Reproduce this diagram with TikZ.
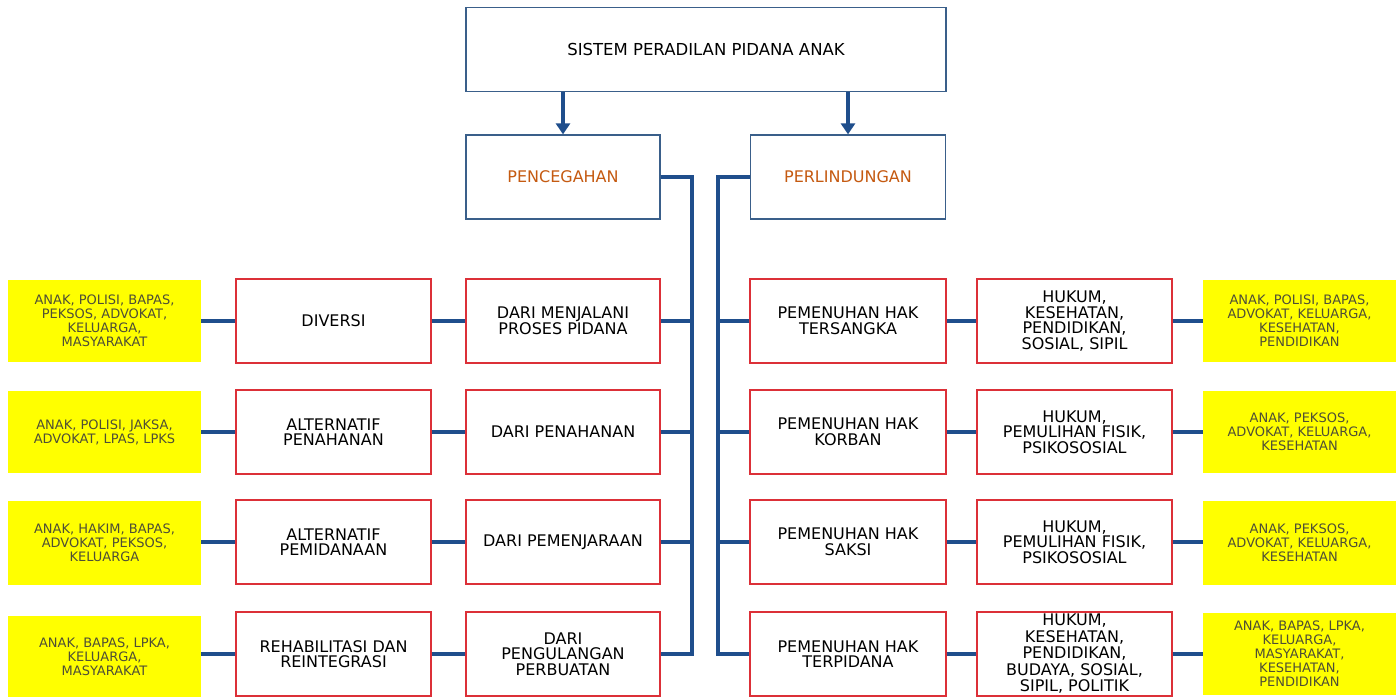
\documentclass[tikz,border=0pt]{standalone}
\usepackage{fontspec}
\setmainfont{DejaVu Sans}
\usetikzlibrary{arrows.meta}
\definecolor{navy}{HTML}{1F4E8C}
\definecolor{topblue}{HTML}{3A5F8A}
\definecolor{boxred}{HTML}{DC3038}
\definecolor{yel}{HTML}{FFFF00}
\definecolor{ytext}{HTML}{4E4E36}
\definecolor{orangebrown}{HTML}{C55A11}
\begin{document}
\begin{tikzpicture}[x=1pt,y=-1pt,
  topbox/.style={draw=topblue, line width=1.3pt, fill=white, inner sep=0pt, align=center, font=\fontsize{16}{16}\selectfont},
  redbox/.style={draw=boxred, line width=1.3pt, fill=white, minimum width=195pt, minimum height=84pt, inner sep=0pt, align=center, font=\fontsize{16}{15.5}\selectfont},
  ybox/.style={fill=yel, minimum width=193pt, minimum height=82pt, inner sep=0pt, align=center, text=ytext, font=\fontsize{13}{14}\selectfont},
  conn/.style={draw=navy, line width=4pt},
  arr/.style={draw=navy, line width=4pt, -{Triangle[width=14pt,length=11pt]}}
]
\useasboundingbox (0,0) rectangle (1400,696);
\fill[white] (0,0) rectangle (1400,696);

% top
\node[topbox, minimum width=480pt, minimum height=84pt, font=\fontsize{16.5}{16}\selectfont] (top) at (706,49.5) {SISTEM PERADILAN PIDANA ANAK};
\node[topbox, minimum width=194pt, minimum height=84pt, text=orangebrown] (pen) at (563,177) {PENCEGAHAN};
\node[topbox, minimum width=195pt, minimum height=84pt, text=orangebrown] (per) at (848,177) {PERLINDUNGAN};

% left column: yellow
\node[ybox] (ly1) at (104.5,321) {ANAK, POLISI,  BAPAS,\\PEKSOS,  ADVOKAT,\\KELUARGA,\\MASYARAKAT};
\node[ybox] (ly2) at (104.5,432) {ANAK, POLISI,  JAKSA,\\ADVOKAT,  LPAS, LPKS};
\node[ybox, minimum height=84pt] (ly3) at (104.5,543) {ANAK, HAKIM, BAPAS,\\ADVOKAT,  PEKSOS,\\KELUARGA};
\node[ybox] (ly4) at (104.5,657) {ANAK, BAPAS, LPKA,\\KELUARGA,\\MASYARAKAT};

% left column: middle
\node[redbox] (lm1) at (333.5,321) {DIVERSI};
\node[redbox] (lm2) at (333.5,432) {ALTERNATIF\\PENAHANAN};
\node[redbox] (lm3) at (333.5,542) {ALTERNATIF\\PEMIDANAAN};
\node[redbox] (lm4) at (333.5,654) {REHABILITASI DAN\\REINTEGRASI};

% left column: dari
\node[redbox, minimum width=194pt] (ld1) at (563,321) {DARI MENJALANI\\PROSES PIDANA};
\node[redbox, minimum width=194pt] (ld2) at (563,432) {DARI PENAHANAN};
\node[redbox, minimum width=194pt] (ld3) at (563,542) {DARI PEMENJARAAN};
\node[redbox, minimum width=194pt] (ld4) at (563,654) {DARI\\PENGULANGAN\\PERBUATAN};

% right column: pemenuhan
\node[redbox, minimum width=196pt] (rp1) at (848,321) {PEMENUHAN HAK\\TERSANGKA};
\node[redbox, minimum width=196pt] (rp2) at (848,432) {PEMENUHAN HAK\\KORBAN};
\node[redbox, minimum width=196pt] (rp3) at (848,542) {PEMENUHAN HAK\\SAKSI};
\node[redbox, minimum width=196pt] (rp4) at (848,654) {PEMENUHAN HAK\\TERPIDANA};

% right column: hukum
\node[redbox] (rh1) at (1074.5,321) {HUKUM,\\KESEHATAN,\\PENDIDIKAN,\\SOSIAL, SIPIL};
\node[redbox] (rh2) at (1074.5,432) {HUKUM,\\PEMULIHAN FISIK,\\PSIKOSOSIAL};
\node[redbox] (rh3) at (1074.5,542) {HUKUM,\\PEMULIHAN FISIK,\\PSIKOSOSIAL};
\node[redbox, font=\fontsize{16}{16.5}\selectfont] (rh4) at (1074.5,654) {HUKUM,\\KESEHATAN,\\PENDIDIKAN,\\BUDAYA, SOSIAL,\\SIPIL, POLITIK};

% right column: yellow
\node[ybox] (ry1) at (1299.5,321) {ANAK, POLISI,  BAPAS,\\ADVOKAT,  KELUARGA,\\KESEHATAN,\\PENDIDIKAN};
\node[ybox] (ry2) at (1299.5,432) {ANAK, PEKSOS,\\ADVOKAT,  KELUARGA,\\KESEHATAN};
\node[ybox, minimum height=84pt] (ry3) at (1299.5,543) {ANAK, PEKSOS,\\ADVOKAT,  KELUARGA,\\KESEHATAN};
\node[ybox] (ry4) at (1299.5,654) {ANAK, BAPAS, LPKA,\\KELUARGA,\\MASYARAKAT,\\KESEHATAN,\\PENDIDIKAN};

% arrows
\draw[arr] (top.south -| pen) -- (pen.north);
\draw[arr] (top.south -| per) -- (per.north);

% buses
\coordinate (lb) at (692,177);
\coordinate (rb) at (718,177);
\draw[conn, line join=miter] (pen.east) -- (lb) -- (lb |- ld4.east) -- (ld4.east);
\draw[conn, line join=miter] (per.west) -- (rb) -- (rb |- rp4.west) -- (rp4.west);
\foreach \i in {1,2,3} {
  \draw[conn] (ld\i.east) -- (ld\i.east -| lb);
  \draw[conn] (rp\i.west) -- (rp\i.west -| rb);
}

% row connectors
\foreach \i in {1,2,3,4} {
  \draw[conn] (ly\i.east |- lm\i.west) -- (lm\i.west);
  \draw[conn] (lm\i.east) -- (ld\i.west);
  \draw[conn] (rp\i.east) -- (rh\i.west);
  \draw[conn] (rh\i.east) -- (ry\i.west |- rh\i.east);
}
\end{tikzpicture}
\end{document}
